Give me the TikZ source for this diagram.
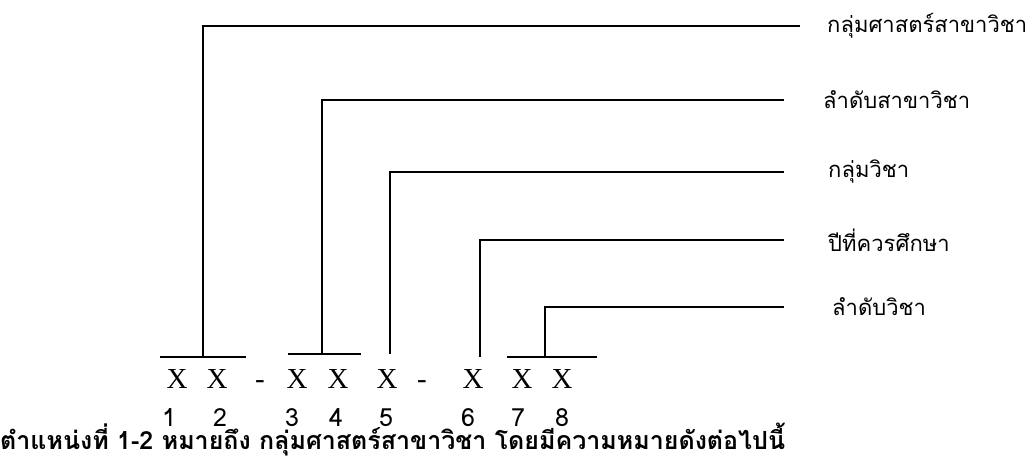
\documentclass[tikz,border=0pt]{standalone}
\usepackage{fontspec}
\newfontfamily\thaifont[Script=Thai]{Loma}
\newfontfamily\xfont{Liberation Serif}
\usetikzlibrary{positioning}
\tikzset{field/.style={anchor=west, inner sep=0pt, font=\thaifont\fontsize{22}{24}\selectfont}}
\tikzset{xchar/.style={anchor=base, inner sep=0pt, font=\xfont\fontsize{29}{31}\selectfont}}
\tikzset{digit/.style={anchor=base, inner sep=0pt, text height=17pt, text depth=0pt,
 font=\thaifont\fontsize{25}{27}\selectfont}}
\tikzset{line/.style={draw, line width=1.2pt}}

\begin{document}
\begin{tikzpicture}[x=1pt, y=-1pt]
        \useasboundingbox (0,0) rectangle (1031,460);

        % code letters
        \node[xchar] (x1) at (177,388) {X};
        \node[xchar] (x2) at (217,388) {X};
        \node[xchar] (d1) at (260,388) {-};
        \node[xchar] (x3) at (297,388) {X};
        \node[xchar] (x4) at (338,388) {X};
        \node[xchar] (x5) at (387,388) {X};
        \node[xchar] (d2) at (422,388) {-};
        \node[xchar] (x6) at (473,388) {X};
        \node[xchar] (x7) at (522,388) {X};
        \node[xchar] (x8) at (562,388) {X};

        % positions
        \node[digit] (n1) at (169,426) {1};
        \node[digit] (n2) at (220,426) {2};
        \node[digit] (n3) at (292,426) {3};
        \node[digit] (n4) at (336,426) {4};
        \node[digit] (n5) at (386,426) {5};
        \node[digit] (n6) at (468,426) {6};
        \node[digit] (n7) at (518,426) {7};
        \node[digit] (n8) at (562,426) {8};

        % meanings
        \node[field] (l1) at (827,26)  {กลุ่มศาสตร์สาขาวิชา};
        \node[field] (l2) at (823,100) {ลำดับสาขาวิชา};
        \node[field] (l3) at (828,172) {กลุ่มวิชา};
        \node[field] (l4) at (828,240) {ปีที่ควรศึกษา};
        \node[field] (l5) at (832,307) {ลำดับวิชา};

        \node[anchor=base west, inner sep=0pt, text height=17pt,
              font=\thaifont\bfseries\fontsize{25}{27}\selectfont]
              (cap) at (0,449) {ตำแหน่งที่ 1-2 หมายถึง กลุ่มศาสตร์สาขาวิชา โดยมีความหมายดังต่อไปนี้};

        % bars and ends
        \coordinate (b1) at (203,357);
        \coordinate (b2) at (322,354);
        \coordinate (b3) at (390,354);
        \coordinate (b4) at (480,357);
        \coordinate (b5) at (545,357);
        \coordinate (e1) at (800,26);
        \coordinate (e2) at (784,100);
        \coordinate (e3) at (784,172);
        \coordinate (e4) at (784,240);
        \coordinate (e5) at (784,307);

        \path[line] (160,357) -- (246,357);
        \path[line] (288,354) -- (361,354);
        \path[line] (507,357) -- (597,357);

        \path[line] (b1) |- (e1);
        \path[line] (b2) |- (e2);
        \path[line] (b3) |- (e3);
        \path[line] (b4) |- (e4);
        \path[line] (b5) |- (e5);

\end{tikzpicture}
\end{document}
